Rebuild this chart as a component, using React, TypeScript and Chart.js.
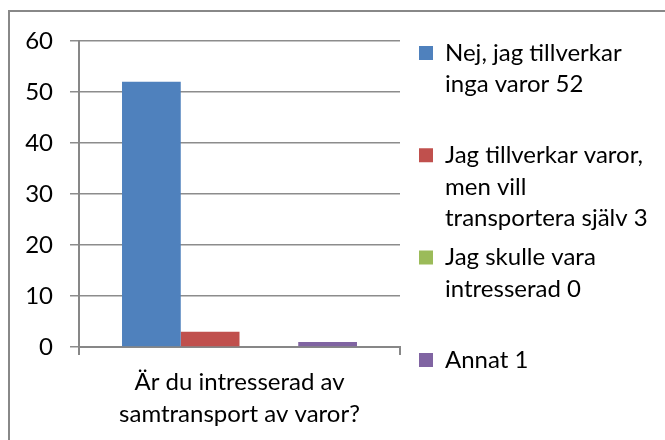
import React, { useEffect, useRef } from "react";
import { Chart, registerables } from "chart.js";

Chart.register(...registerables);

// ---- data ----
const categories = [["Är du intresserad av", "samtransport av varor?"]];
const seriesNames = [
  ["Nej, jag tillverkar", "inga varor 52", ""],
  ["Jag tillverkar varor,", "men vill", "transportera själv 3"],
  ["Jag skulle vara", "intresserad 0", ""],
  ["Annat 1"],
];
const seriesValues = [[52], [3], [0], [1]];
const seriesColors = ["#4F81BD", "#C0504D", "#9BBB59", "#8064A2"];
const yMin = 0;
const yMax = 60;
const yStep = 10;

const FONT = "Lato, 'Open Sans', sans-serif";
const FONT_SIZE = 24;
const LINE_H = 31.5 / FONT_SIZE;
const LEGEND_PAD = 7.8;

export default function App() {
  const canvasRef = useRef<HTMLCanvasElement | null>(null);

  useEffect(() => {
    const canvas = canvasRef.current;
    if (!canvas) return;

    const legendPlacer = {
      id: "legendPlacer",
      afterLayout(chart: any) {
        const lg = chart.legend;
        if (!lg) return;
        const w = 250;
        const h = lg.height;
        lg.left = chart.chartArea.right + 19 - LEGEND_PAD;
        lg.width = w;
        lg.right = lg.left + w;
        lg.top = chart.chartArea.top - LEGEND_PAD;
        lg.bottom = lg.top + h;
      },
    };

    const chart = new Chart(canvas, {
      type: "bar",
      data: {
        labels: categories as any,
        datasets: seriesValues.map((vals, i) => ({
          label: seriesNames[i].join(" "),
          data: vals,
          backgroundColor: seriesColors[i],
          borderWidth: 0,
          categoryPercentage: 0.732,
          barPercentage: 1.0,
        })),
      },
      options: {
        responsive: false,
        animation: false,
        devicePixelRatio: 1,
        layout: { padding: { left: 0, top: 41, right: 65, bottom: 0 } },
        plugins: {
          tooltip: { enabled: false },
          title: { display: false },
          legend: {
            position: "right",
            align: "start",
            maxWidth: 200,
            labels: {
              boxWidth: 14,
              boxHeight: 14,
              padding: LEGEND_PAD,
              color: "#000",
              font: { family: FONT, size: FONT_SIZE, lineHeight: LINE_H },
              generateLabels: () =>
                seriesNames.map((name, i) => ({
                  text: name as any,
                  fillStyle: seriesColors[i],
                  strokeStyle: seriesColors[i],
                  lineWidth: 0,
                  hidden: false,
                  datasetIndex: i,
                  fontColor: "#000",
                })),
            },
          },
        },
        scales: {
          x: {
            offset: true,
            afterFit: (s: any) => {
              s.height = 93;
            },
            grid: {
              display: true,
              offset: true,
              drawOnChartArea: false,
              drawTicks: true,
              tickLength: 8,
              color: "#878787",
              lineWidth: 2,
            },
            border: { display: true, color: "#878787", width: 2 },
            ticks: {
              color: "#000",
              padding: 12,
              maxRotation: 0,
              font: { family: FONT, size: FONT_SIZE, lineHeight: LINE_H },
            },
          },
          y: {
            min: yMin,
            max: yMax,
            afterFit: (s: any) => {
              s.width = 79;
            },
            grid: {
              color: "#8c8c8c",
              lineWidth: 1.5,
              drawTicks: true,
              tickLength: 9,
            },
            border: { display: true, color: "#878787", width: 2 },
            ticks: {
              stepSize: yStep,
              color: "#000",
              padding: 17,
              font: { family: FONT, size: FONT_SIZE },
            },
          },
        },
      },
      plugins: [legendPlacer],
    });

    return () => chart.destroy();
  }, []);

  return (
    <div
      style={{
        position: "absolute",
        left: 0,
        top: 0,
        width: 665,
        height: 440,
        overflow: "hidden",
        background: "#fff",
      }}
    >
      <div
        style={{
          position: "absolute",
          left: 8,
          top: 10,
          width: 800,
          height: 800,
          border: "2px solid #888888",
          boxSizing: "border-box",
        }}
      />
      <canvas
        ref={canvasRef}
        width={665}
        height={440}
        style={{ position: "absolute", left: 0, top: 0, width: 665, height: 440 }}
      />
    </div>
  );
}
